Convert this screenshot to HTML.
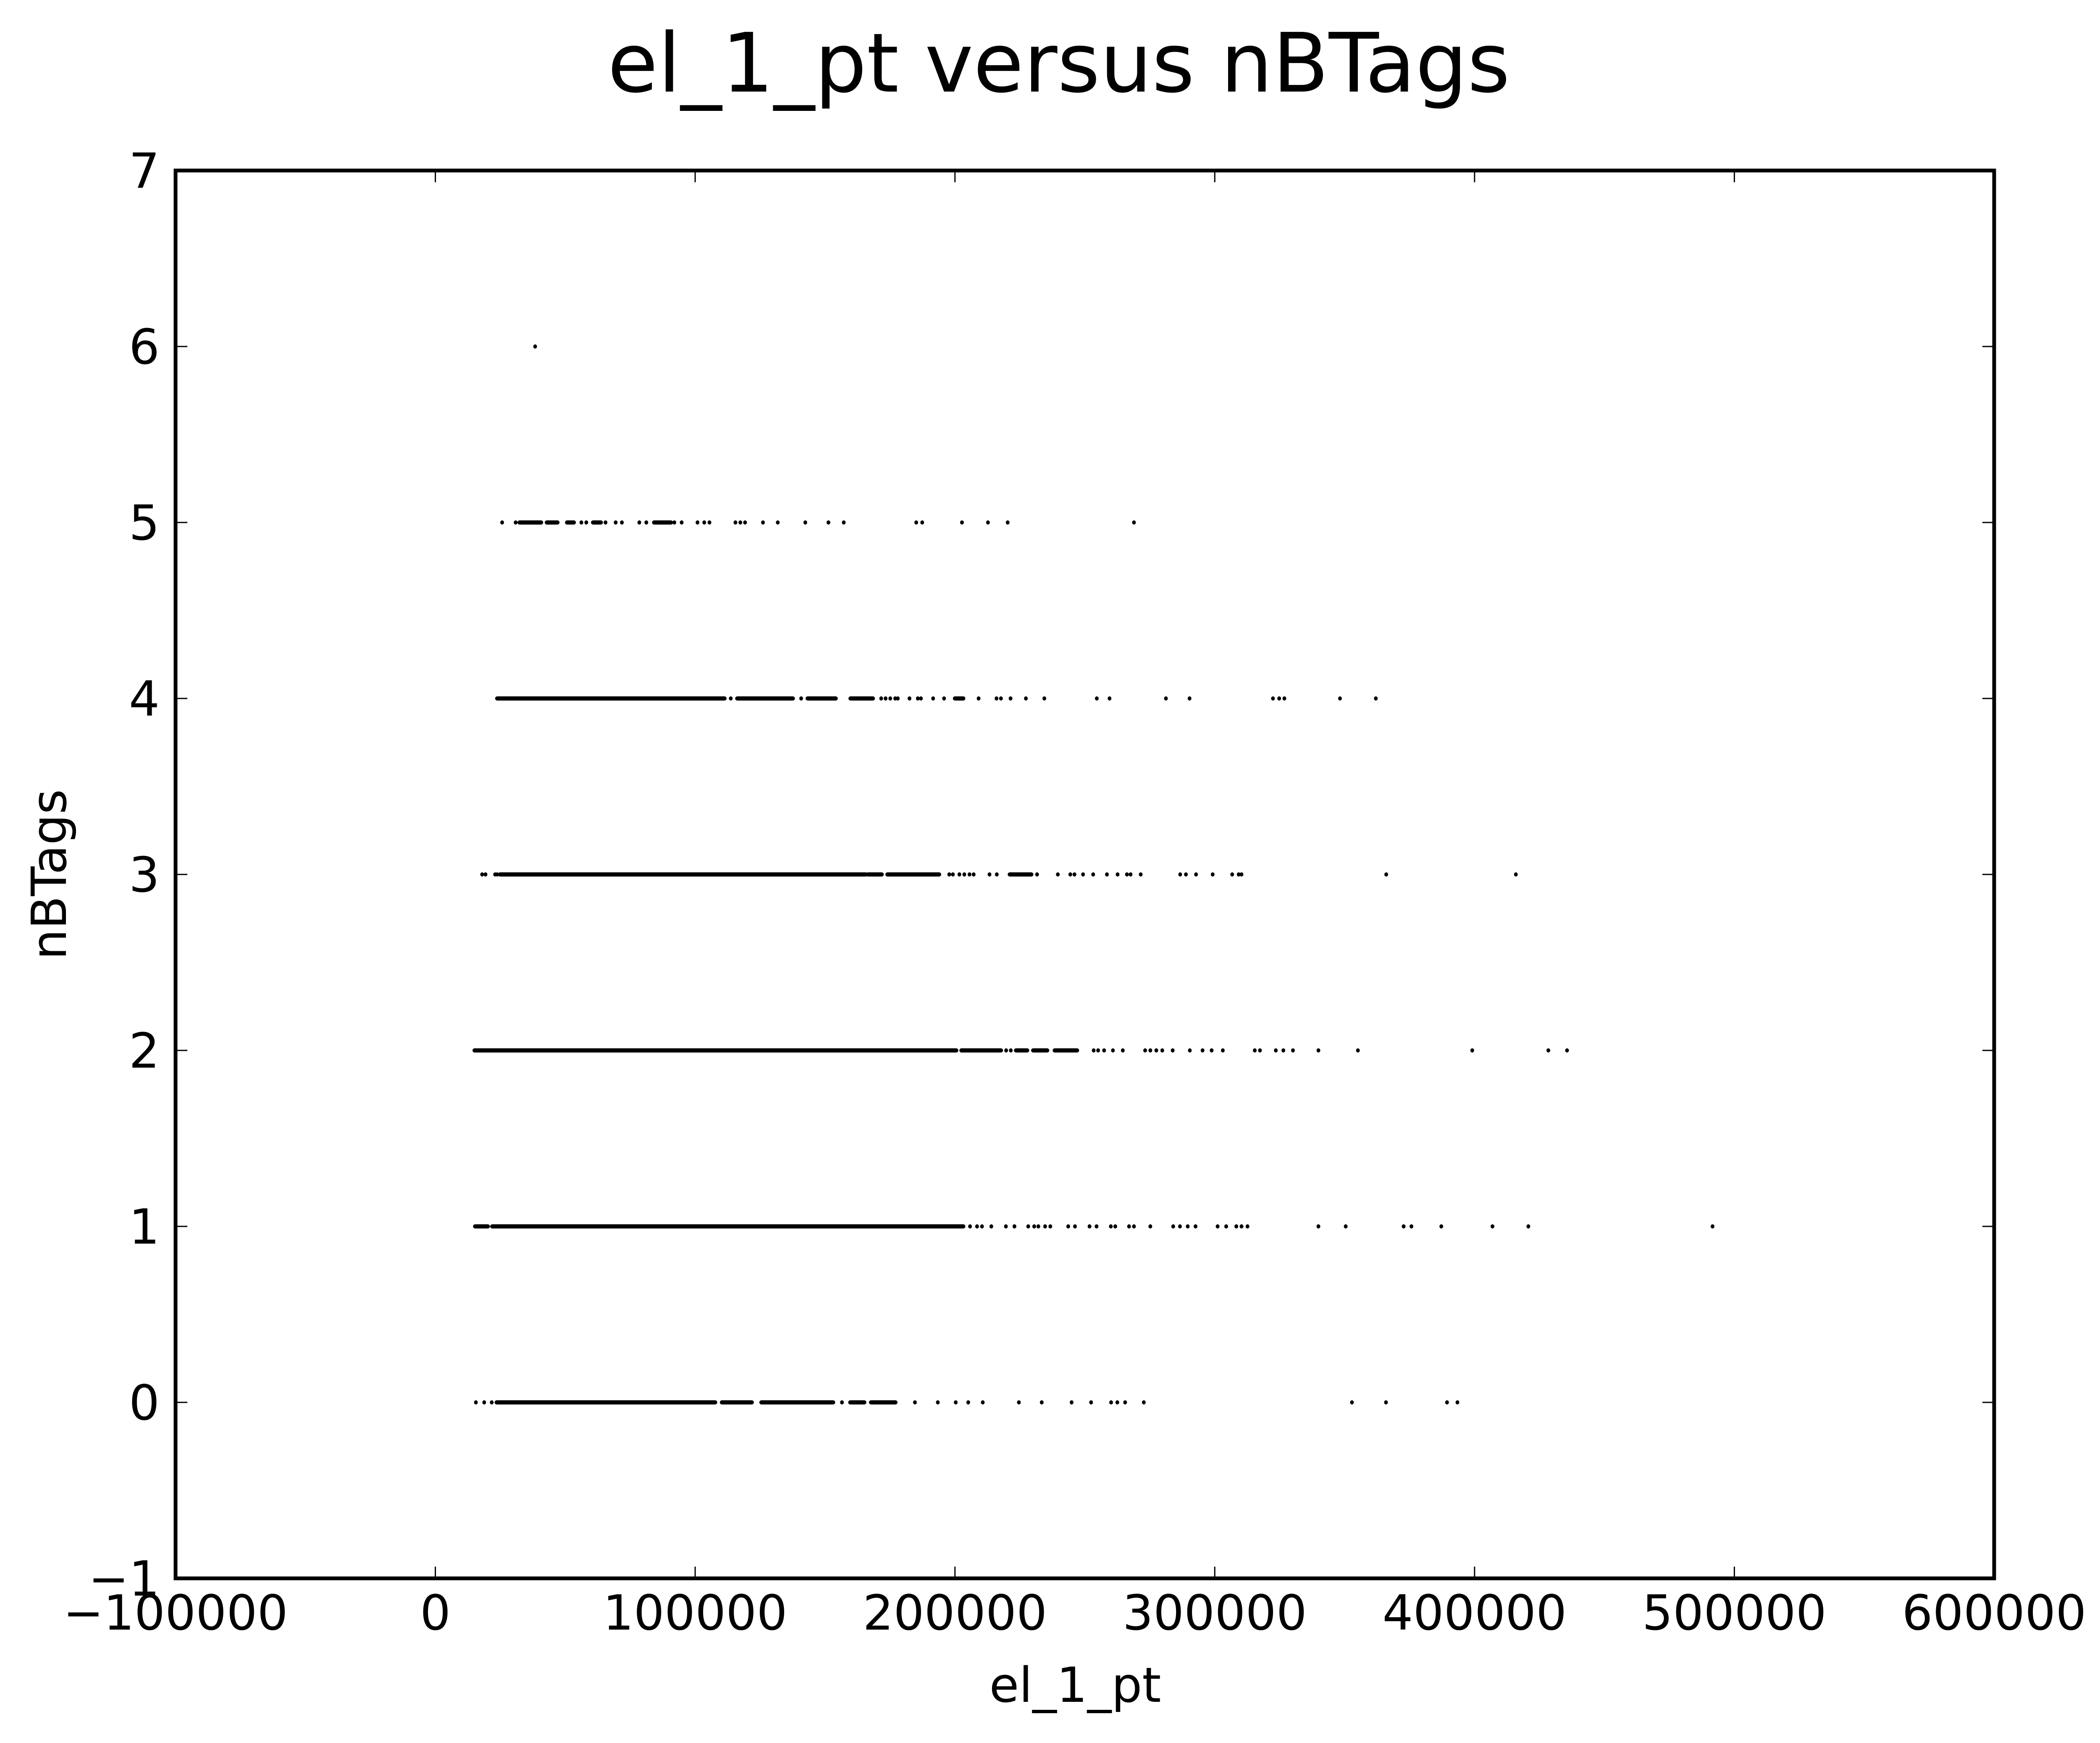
<!DOCTYPE html>
<html><head><meta charset="utf-8">
<style>
html,body{margin:0;padding:0;background:#fff;}
svg{display:block;font-family:"DejaVu Sans","Liberation Sans",sans-serif;}
</style></head>
<body>
<svg id="chart" width="5043" height="4150" viewBox="0 0 5043 4150" xmlns="http://www.w3.org/2000/svg">
<rect x="0" y="0" width="5043" height="4150" fill="#fff"/>
<text x="2521" y="218" font-size="195" text-anchor="middle">el_1_pt versus nBTags</text>
<text x="2560" y="4052" font-size="115" text-anchor="middle">el_1_pt</text>
<text transform="translate(157,2082) rotate(-90)" font-size="115" text-anchor="middle">nBTags</text>
<g id="marks"></g>
<g id="axes"></g>
</svg>
<script>
// x values in thousands
const xTicks = [-100000, 0, 100000, 200000, 300000, 400000, 500000, 600000];
const xTickLabels = ["\u2212100000", "0", "100000", "200000", "300000", "400000", "500000", "600000"];
const yTicks = [-1, 0, 1, 2, 3, 4, 5, 6, 7];
const yTickLabels = ["\u22121", "0", "1", "2", "3", "4", "5", "6", "7"];
const rowLevels = [0, 1, 2, 3, 4, 5, 6];
// dense clusters [start, end] (thousands) per nBTags level
const dense0 = [[23.6,107.7],[110.3,121.8],[125.5,153.1],[159.7,165.1],[167.7,177.1]];
const dense1 = [[15.3,20.2],[21.9,155],[155,203.2]];
const dense2 = [[15.1,25.2],[25.2,200.5],[202.5,217.7],[223.5,227.8],[230.1,235.5],[238.4,247]];
const dense3 = [[24.9,165.7],[166.5,171.8],[174,193.9],[221.1,229.4]];
const dense4 = [[23.8,111.3],[116.2,137.6],[143.3,154.1],[159.8,168.4],[200,203.2]];
const dense5 = [[32.4,40.7],[42.9,47],[50.7,53.3],[60.7,63.7],[84.2,90.7]];
const dense6 = [];
// isolated points (thousands)
const pts0 = [15.6,18.8,21.7,156.5,184.6,193.4,200.3,205.1,210.7,224.6,233.4,244.9,252.4,260.1,262.5,265.5,272.7,352.8,365.9,389.4,393.4];
const pts1 = [205.8,208.5,210.4,214,219.6,222.9,228.2,230.5,232.1,234.7,236.7,243.6,246.2,251.8,254.5,260,261.7,267,268.9,275.2,284,286.6,289.6,292.6,301.1,304.4,308.3,310.3,312.6,339.9,350.4,372.7,375.7,387.2,406.9,420.7,491.6];
const pts2 = [219.7,221.5,253.4,255.1,257.4,260.8,264.6,273.2,275.2,277.5,279.8,283.8,290.4,295.3,298.8,303.1,315.4,317.4,323.5,326.4,330.1,339.9,355.1,399.1,428.4,435.6];
const pts3 = [18,19.3,23,23.8,197.8,199.2,201.7,203.6,205.6,207.2,213.3,216.1,231.6,239.6,244.4,246,249.3,253.2,258.5,262.6,266.2,267.6,271.5,286.7,288.9,292.8,299.2,306.7,309.2,310.3,366,415.9];
const pts4 = [113.7,140.8,171.6,173.3,175.1,177,178,182.5,185.7,186.9,191.6,195.8,209.1,216,217.7,221.4,227.3,234.4,254.6,259.5,281.2,290.3,322.4,324.8,326.8,348.2,362];
const pts5 = [25.7,30.9,56.2,58.1,65.5,69.4,71.8,78.5,81.2,92,94.8,100.9,103.5,105.5,115.5,117.4,119.2,126.1,131.8,142.4,151.3,157.2,185.1,187.4,202.7,212.7,220.3,268.9];
const pts6 = [38.4];

const denseRows = [dense0,dense1,dense2,dense3,dense4,dense5,dense6];
const ptRows = [pts0,pts1,pts2,pts3,pts4,pts5,pts6];

const L=418,R=4748,T=406,B=3758;
const xMin=-100000,xMax=600000,yMin=-1,yMax=7;
function xs(v){return L+(v-xMin)/(xMax-xMin)*(R-L);}
function ys(v){return B-(v-yMin)/(yMax-yMin)*(B-T);}
const NS="http://www.w3.org/2000/svg";
const marks=document.getElementById('marks');
const axes=document.getElementById('axes');
function mk(tag,attrs,parent){const e=document.createElementNS(NS,tag);for(const k in attrs)e.setAttribute(k,attrs[k]);parent.appendChild(e);return e;}

rowLevels.forEach((lvl,i)=>{
  const y=ys(lvl);
  denseRows[i].forEach(seg=>{
    const l=mk('line',{x1:xs(seg[0]*1000),x2:xs(seg[1]*1000),y1:y,y2:y,stroke:'#000','stroke-width':10,'stroke-linecap':'round'},marks);
    
    
  });
  ptRows[i].forEach(v=>{
    const c=mk('ellipse',{cx:xs(v*1000),cy:y,rx:4.5,ry:5,fill:'#000'},marks);
    
    
  });
});

// frame
const fr=mk('rect',{x:L,y:T,width:R-L,height:B-T,fill:'none',stroke:'#000','stroke-width':9},axes);



xTicks.forEach((v,i)=>{
  const x=xs(v);
  const t1=mk('line',{x1:x,x2:x,y1:B,y2:B-28,stroke:'#000','stroke-width':3},axes);
  
  
  const t2=mk('line',{x1:x,x2:x,y1:T,y2:T+28,stroke:'#000','stroke-width':3},axes);
  
  
  const tx=mk('text',{x:x,y:3880,'font-size':115,'text-anchor':'middle'},axes);
  tx.textContent=xTickLabels[i];
  
  
});
yTicks.forEach((v,i)=>{
  const y=ys(v);
  const t1=mk('line',{x1:L,x2:L+28,y1:y,y2:y,stroke:'#000','stroke-width':3},axes);
  
  
  const t2=mk('line',{x1:R,x2:R-28,y1:y,y2:y,stroke:'#000','stroke-width':3},axes);
  
  
  const tx=mk('text',{x:380,y:y+41,'font-size':115,'text-anchor':'end'},axes);
  tx.textContent=yTickLabels[i];
  
  
});
</script>
</body></html>
